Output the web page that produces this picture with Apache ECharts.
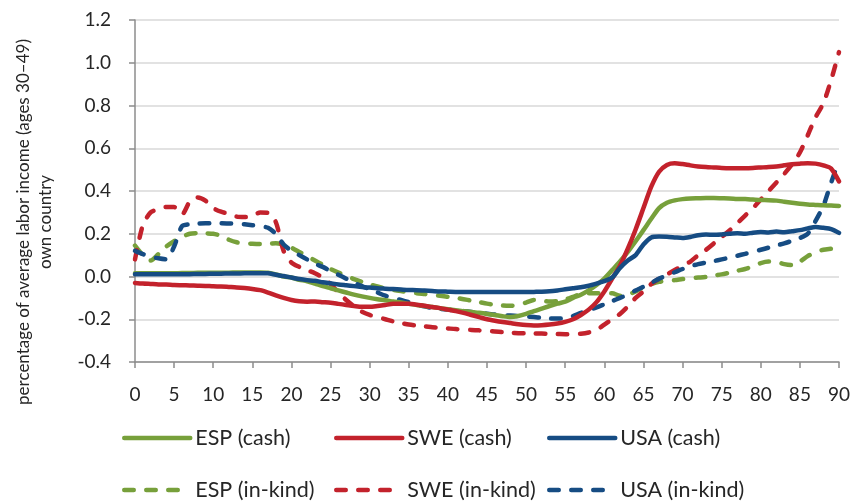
<!DOCTYPE html>
<html>
<head>
<meta charset="utf-8">
<script src="https://cdn.jsdelivr.net/npm/echarts@6/dist/echarts.min.js"></script>
<style>
html,body{margin:0;padding:0;background:#fff;}
#chart{width:855px;height:503px;}
</style>
</head>
<body>
<div id="chart"></div>
<script>
// ages 0..90
const ages = [];
for (let a = 0; a <= 90; a++) ages.push(a);

const yTicks = [-0.4, -0.2, 0.0, 0.2, 0.4, 0.6, 0.8, 1.0, 1.2];
const xTicks = [0,5,10,15,20,25,30,35,40,45,50,55,60,65,70,75,80,85,90];

const espCash = [
 0.015,0.015,0.015,0.015,0.015,0.015,0.016,0.016,0.017,0.017,
 0.018,0.018,0.018,0.019,0.019,0.019,0.019,0.018,0.010,0.000,
 -0.005,-0.015,-0.022,-0.033,-0.045,-0.055,-0.065,-0.075,-0.085,-0.093,
 -0.100,-0.106,-0.111,-0.117,-0.122,-0.128,-0.133,-0.138,-0.143,-0.148,
 -0.153,-0.158,-0.162,-0.166,-0.170,-0.175,-0.180,-0.186,-0.190,-0.185,
 -0.175,-0.162,-0.150,-0.138,-0.127,-0.118,-0.100,-0.085,-0.065,-0.040,
 -0.010,0.030,0.070,0.115,0.165,0.217,0.270,0.320,0.345,0.356,
 0.362,0.365,0.366,0.367,0.367,0.366,0.365,0.363,0.362,0.360,
 0.358,0.357,0.355,0.350,0.345,0.340,0.337,0.335,0.333,0.332,
 0.330
];
const sweCash = [
 -0.030,-0.033,-0.035,-0.037,-0.038,-0.040,-0.041,-0.042,-0.043,-0.044,
 -0.046,-0.047,-0.049,-0.051,-0.054,-0.058,-0.064,-0.075,-0.088,-0.100,
 -0.110,-0.116,-0.118,-0.117,-0.120,-0.123,-0.128,-0.133,-0.138,-0.142,
 -0.142,-0.138,-0.133,-0.128,-0.127,-0.128,-0.132,-0.137,-0.143,-0.148,
 -0.155,-0.162,-0.170,-0.180,-0.190,-0.200,-0.207,-0.213,-0.218,-0.223,
 -0.227,-0.229,-0.228,-0.225,-0.220,-0.212,-0.200,-0.180,-0.155,-0.120,
 -0.070,-0.010,0.050,0.130,0.220,0.320,0.420,0.490,0.522,0.530,
 0.526,0.520,0.515,0.512,0.510,0.508,0.507,0.507,0.507,0.508,
 0.510,0.512,0.515,0.520,0.525,0.528,0.530,0.528,0.520,0.505,
 0.445
];
const usaCash = [
 0.010,0.010,0.010,0.010,0.010,0.010,0.011,0.011,0.012,0.012,
 0.013,0.013,0.014,0.014,0.015,0.015,0.015,0.015,0.008,0.002,
 -0.005,-0.012,-0.017,-0.020,-0.027,-0.032,-0.037,-0.041,-0.045,-0.049,
 -0.052,-0.055,-0.057,-0.059,-0.061,-0.063,-0.064,-0.066,-0.068,-0.070,
 -0.071,-0.072,-0.072,-0.073,-0.073,-0.073,-0.073,-0.073,-0.073,-0.073,
 -0.073,-0.072,-0.071,-0.069,-0.065,-0.060,-0.055,-0.050,-0.043,-0.033,
 -0.022,-0.005,0.040,0.075,0.100,0.150,0.183,0.187,0.186,0.183,
 0.180,0.185,0.193,0.196,0.195,0.197,0.200,0.202,0.200,0.205,
 0.208,0.206,0.210,0.207,0.212,0.217,0.225,0.232,0.228,0.222,
 0.204
];
const espKind = [
 0.145,0.100,0.075,0.105,0.140,0.165,0.185,0.200,0.203,0.202,
 0.200,0.190,0.172,0.160,0.155,0.153,0.152,0.153,0.156,0.150,
 0.135,0.115,0.095,0.075,0.055,0.035,0.018,0.003,-0.012,-0.025,
 -0.037,-0.047,-0.055,-0.062,-0.068,-0.073,-0.078,-0.082,-0.086,-0.090,
 -0.095,-0.100,-0.106,-0.113,-0.120,-0.127,-0.132,-0.136,-0.137,-0.133,
 -0.122,-0.110,-0.113,-0.117,-0.115,-0.108,-0.095,-0.082,-0.078,-0.078,
 -0.078,-0.078,-0.090,-0.085,-0.070,-0.050,-0.035,-0.025,-0.020,-0.017,
 -0.012,-0.008,-0.005,-0.002,0.005,0.010,0.018,0.027,0.035,0.048,
 0.063,0.070,0.068,0.058,0.053,0.070,0.095,0.115,0.125,0.130,
 0.135
];
const sweKind = [
 0.080,0.240,0.300,0.315,0.325,0.325,0.290,0.350,0.370,0.355,
 0.320,0.303,0.293,0.280,0.278,0.282,0.300,0.298,0.255,0.120,
 0.065,0.045,0.030,0.015,-0.005,-0.035,-0.075,-0.110,-0.140,-0.165,
 -0.180,-0.190,-0.200,-0.210,-0.218,-0.225,-0.230,-0.233,-0.237,-0.240,
 -0.243,-0.246,-0.248,-0.250,-0.252,-0.254,-0.257,-0.260,-0.263,-0.265,
 -0.266,-0.267,-0.267,-0.268,-0.269,-0.270,-0.270,-0.268,-0.262,-0.250,
 -0.225,-0.200,-0.175,-0.140,-0.100,-0.070,-0.035,-0.010,0.010,0.030,
 0.050,0.070,0.100,0.125,0.155,0.185,0.215,0.250,0.285,0.320,
 0.360,0.400,0.440,0.480,0.525,0.580,0.660,0.745,0.810,0.920,
 1.050
];
const usaKind = [
 0.120,0.105,0.093,0.085,0.080,0.140,0.235,0.245,0.248,0.249,
 0.249,0.249,0.248,0.247,0.244,0.240,0.235,0.228,0.200,0.150,
 0.120,0.100,0.080,0.060,0.045,0.025,0.008,-0.010,-0.030,-0.045,
 -0.060,-0.075,-0.090,-0.100,-0.110,-0.120,-0.130,-0.140,-0.148,-0.152,
 -0.155,-0.158,-0.162,-0.166,-0.170,-0.174,-0.178,-0.181,-0.183,-0.185,
 -0.187,-0.190,-0.193,-0.196,-0.197,-0.195,-0.185,-0.170,-0.158,-0.145,
 -0.130,-0.115,-0.100,-0.085,-0.065,-0.048,-0.030,-0.010,0.005,0.020,
 0.035,0.048,0.058,0.065,0.072,0.080,0.088,0.097,0.106,0.115,
 0.125,0.135,0.145,0.155,0.167,0.180,0.200,0.260,0.330,0.440,
 0.540
];

const GREEN = '#77A03B', RED = '#C3222C', BLUE = '#164C83';
const FONT = 'Lato, "Open Sans", sans-serif';
const TEXT = '#262626';
const LW = 4.5;
const DASH = [9.5, 12.5];

function pairs(vals) { return ages.map((a, i) => [a, vals[i]]); }

function mk(name, vals, color, dashed, z) {
  return {
    name: name, type: 'line', data: pairs(vals),
    symbol: 'none', showSymbol: false, smooth: 0.25, z: z,
    lineStyle: { color: color, width: LW, type: dashed ? DASH : 'solid', cap: 'round', join: 'round' },
    itemStyle: { color: color },
    emphasis: { disabled: true }
  };
}

const chart = echarts.init(document.getElementById('chart'), null, { renderer: 'canvas' });

function legendItem(left, top, name) {
  return {
    orient: 'horizontal', left: left, top: top, padding: 0,
    data: [name], itemWidth: 66, itemHeight: 14,
    itemStyle: { opacity: 0 },
    lineStyle: { width: LW, cap: 'round' },
    textStyle: { fontFamily: FONT, fontSize: 21.5, color: TEXT, lineHeight: 24 },
    selectedMode: false
  };
}

chart.setOption({
  animation: false,
  backgroundColor: '#ffffff',
  grid: { left: 135, right: 16, top: 20, bottom: 141, containLabel: false },
  xAxis: {
    type: 'value', min: 0, max: 90, interval: 5,
    axisLine: { onZero: false, lineStyle: { color: '#8C8C8C', width: 1.5 } },
    axisTick: { show: true, length: 6, lineStyle: { color: '#8C8C8C', width: 1.5 } },
    splitLine: { show: false },
    axisLabel: { fontFamily: FONT, fontSize: 19, color: TEXT, margin: 23,
      customValues: xTicks, formatter: v => String(v) }
  },
  yAxis: {
    type: 'value', min: -0.4, max: 1.2, interval: 0.2,
    axisLine: { show: true, lineStyle: { color: '#8C8C8C', width: 1.5 } },
    axisTick: { show: true, length: 6, lineStyle: { color: '#8C8C8C', width: 1.5 } },
    splitLine: { show: true, lineStyle: { color: '#D9D9D9', width: 1.5 } },
    axisLabel: { fontFamily: FONT, fontSize: 19, color: TEXT, margin: 24,
      formatter: v => (Math.abs(v) < 1e-9 ? 0 : v).toFixed(1) }
  },
  legend: [
    legendItem(122, 426, 'ESP (cash)'),
    legendItem(334, 426, 'SWE (cash)'),
    legendItem(547, 426, 'USA (cash)'),
    legendItem(122, 478, 'ESP (in-kind)'),
    legendItem(334, 478, 'SWE (in-kind)'),
    legendItem(547, 478, 'USA (in-kind)')
  ],
  graphic: [{
    type: 'text', x: 35, y: 222, rotation: Math.PI / 2,
    style: {
      text: 'percentage of average labor income (ages 30–49)\nown country',
      fontFamily: FONT, fontSize: 17, fill: TEXT, lineHeight: 22,
      align: 'center', verticalAlign: 'middle'
    }
  }],
  series: [
    mk('ESP (cash)', espCash, GREEN, false, 3),
    mk('SWE (cash)', sweCash, RED, false, 3),
    mk('USA (cash)', usaCash, BLUE, false, 3),
    mk('ESP (in-kind)', espKind, GREEN, true, 2),
    mk('SWE (in-kind)', sweKind, RED, true, 2),
    mk('USA (in-kind)', usaKind, BLUE, true, 2)
  ]
});
</script>
</body>
</html>
